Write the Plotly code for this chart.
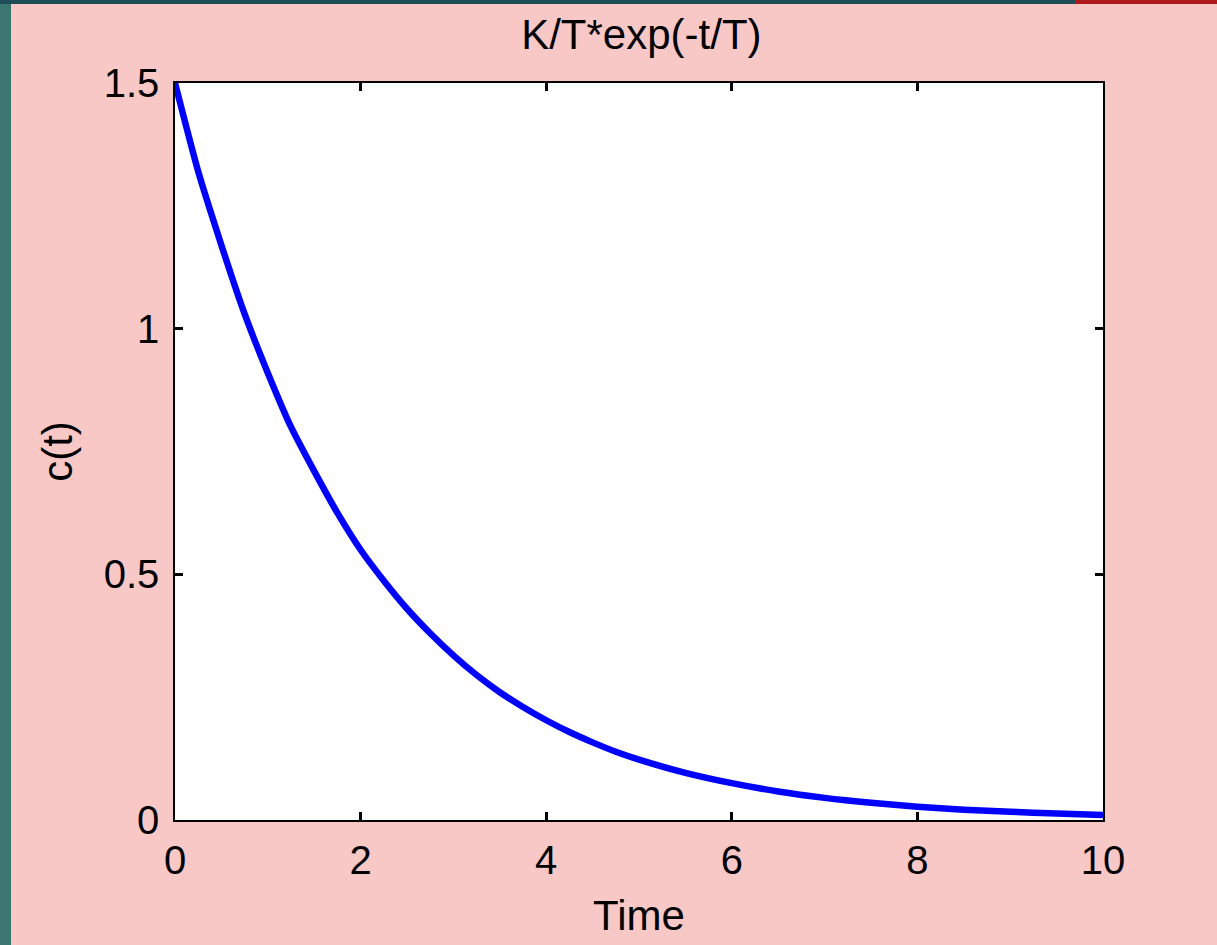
import plotly.graph_objects as go

# Values
time = [0, 0.25, 0.5, 0.75, 1.0, 1.25, 1.5, 1.75, 2.0, 2.25, 2.5, 2.75, 3.0,
        3.25, 3.5, 3.75, 4.0, 4.25, 4.5, 4.75, 5.0, 5.5, 6.0, 6.5, 7.0, 7.5,
        8.0, 8.5, 9.0, 9.5, 10.0]
c_t = [1.50, 1.32, 1.17, 1.03, 0.91, 0.80, 0.71, 0.625, 0.55, 0.487, 0.43, 0.38,
       0.335, 0.295, 0.26, 0.23, 0.203, 0.179, 0.158, 0.139, 0.123, 0.096,
       0.075, 0.058, 0.045, 0.035, 0.027, 0.021, 0.017, 0.013, 0.010]

x_ticks = [0, 2, 4, 6, 8, 10]
y_ticks = [0, 0.5, 1, 1.5]
y_tick_text = ["0", "0.5", "1", "1.5"]

FONT = "Liberation Sans, Arial, sans-serif"

fig = go.Figure()
fig.add_trace(go.Scatter(
    x=time, y=c_t, mode="lines",
    line=dict(color="#0000FF", width=6.5, shape="spline", smoothing=0.6),
    showlegend=False,
))

W, H = 1217, 945
L, R, T, B = 175, 114, 83, 125
pw, ph = W - L - R, H - T - B

def px(x):
    return (x - L) / pw

def py(y):
    return 1 - (y - T) / ph

shapes = [
    dict(type="rect", xref="paper", yref="paper", x0=px(0), x1=px(11), y0=py(H), y1=py(0),
         fillcolor="#3B776F", line=dict(width=0), layer="below"),
    dict(type="rect", xref="paper", yref="paper", x0=px(0), x1=px(1075), y0=py(4), y1=py(0),
         fillcolor="#1F4D57", line=dict(width=0), layer="below"),
    dict(type="rect", xref="paper", yref="paper", x0=px(1075), x1=px(W), y0=py(4), y1=py(0),
         fillcolor="#B0191A", line=dict(width=0), layer="below"),
]

axis_common = dict(
    showgrid=False, zeroline=False,
    showline=True, linecolor="black", linewidth=1.5, mirror="ticks",
    ticks="inside", ticklen=8, tickwidth=2.5, tickcolor="black",
    tickfont=dict(family=FONT, size=40, color="black"),
)

fig.update_layout(
    width=W, height=H,
    margin=dict(l=L, r=R, t=T, b=B),
    paper_bgcolor="#F8C8C7",
    plot_bgcolor="white",
    shapes=shapes,
    title=dict(text="K/T*exp(-t/T)", x=0.527, xanchor="center", y=1 - 34 / H, yanchor="middle",
               font=dict(family=FONT, size=42, color="black")),
    xaxis=dict(range=[0, 10], tickvals=x_ticks, ticktext=[str(v) for v in x_ticks],
               title=dict(text="Time", font=dict(family=FONT, size=42, color="black"), standoff=20),
               ticklabelstandoff=4, **axis_common),
    yaxis=dict(range=[0, 1.5], tickvals=y_ticks, ticktext=y_tick_text,
               title=dict(text="c(t)", font=dict(family=FONT, size=42, color="black"), standoff=18),
               ticklabelstandoff=6, **axis_common),
)

fig.write_html("out.html")
